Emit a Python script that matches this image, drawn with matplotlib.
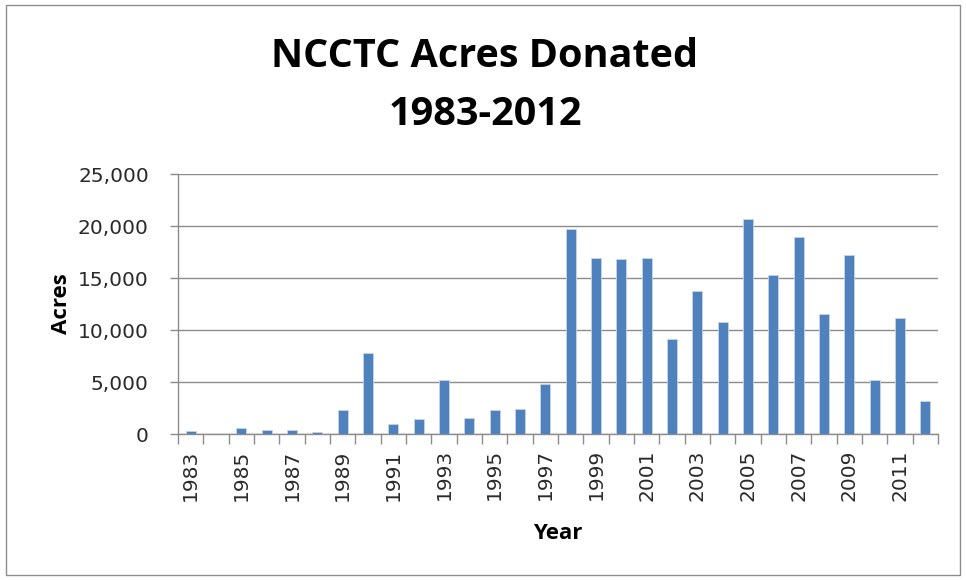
import matplotlib
matplotlib.use("Agg")
import matplotlib.pyplot as plt
from matplotlib.ticker import FuncFormatter, FixedLocator
from matplotlib.patches import Rectangle

years = list(range(1983, 2013))
acres = [294, 0, 555, 425, 425, 196, 2288, 7790, 915, 1438, 5196, 1536, 2288, 2418, 4800,
         19750, 16920, 16830, 16920, 9170, 13720, 10770, 20640, 15320, 18910, 11510, 17180,
         5230, 11150, 3140]
title_lines = ["NCCTC Acres Donated", "1983-2012"]

plt.rcParams['font.family'] = ['DejaVu Sans']
title_font = ['Open Sans', 'DejaVu Sans']

fig = plt.figure(figsize=(9.66, 5.80), dpi=100)
fig.patches.append(Rectangle((0.006, 0.008), 0.988, 0.984, transform=fig.transFigure,
                             fill=False, edgecolor='#8c8c8c', linewidth=1.0))
ax = fig.add_axes([0.1843, 0.2517, 0.7868, 0.4483])

x = list(range(len(years)))
ax.bar(x, acres, width=0.4, color='#4F81BD', edgecolor='#c6d5e8', linewidth=0.6, zorder=3)

ax.set_xlim(-0.5, len(years) - 0.5)
ax.set_ylim(0, 25000)
ax.set_yticks(range(0, 25001, 5000))
ax.yaxis.set_major_formatter(FuncFormatter(lambda v, p: f"{int(v):,}"))
ax.grid(axis='y', color='#8c8c8c', linewidth=1.0, zorder=0)

# category boundary ticks
ax.xaxis.set_major_locator(FixedLocator([i - 0.5 for i in range(len(years) + 1)]))
ax.xaxis.set_major_formatter(FuncFormatter(lambda v, p: ""))
ax.xaxis.set_minor_locator(FixedLocator(x[::2]))
ax.set_xticklabels([str(y) for y in years[::2]], minor=True, rotation=90, fontsize=14.5,
                   color='#2a2a2a')
ax.tick_params(axis='x', which='major', length=7, color='#8c8c8c', width=1)
ax.tick_params(axis='x', which='minor', length=0, pad=11)
ax.tick_params(axis='y', length=6, color='#8c8c8c', width=1, labelsize=14.5, pad=15,
               labelcolor='#2a2a2a')

for s in ['top', 'right']:
    ax.spines[s].set_visible(False)
for s in ['left', 'bottom']:
    ax.spines[s].set_color('#8c8c8c')
    ax.spines[s].set_linewidth(1.0)

ax.set_ylabel("Acres", fontsize=16, fontweight='bold', labelpad=4, family=title_font)
ax.set_xlabel("Year", fontsize=16, fontweight='bold', labelpad=16, family=title_font)

fig.text(0.502, 0.902, title_lines[0], ha='center', va='center', fontsize=28.5,
         fontweight='bold', family=title_font)
fig.text(0.502, 0.802, title_lines[1], ha='center', va='center', fontsize=28.5,
         fontweight='bold', family=title_font)

fig.savefig("out.png", dpi=100)
